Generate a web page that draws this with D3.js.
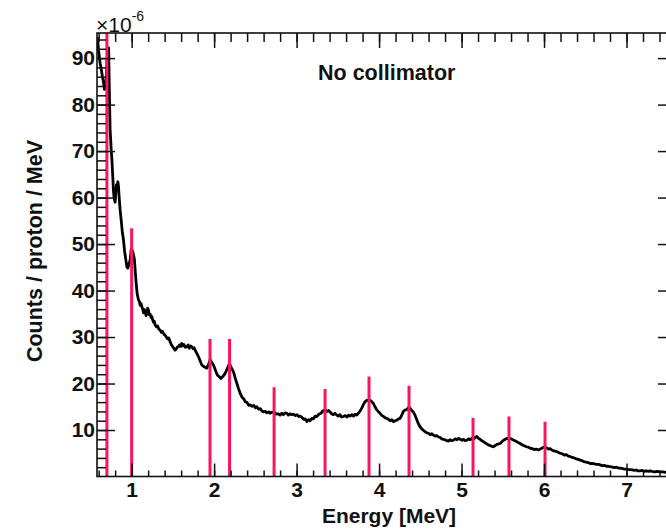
<!DOCTYPE html>
<html>
<head>
<meta charset="utf-8">
<script src="https://cdn.jsdelivr.net/npm/d3@7"></script>
<style>
body { margin: 0; background: #fff; }
text { font-family: "Liberation Sans", Arial, sans-serif; }
</style>
</head>
<body>
<div class="chart"></div>
<script>
// spectrum (MeV, counts/proton/MeV in units of 1e-6)
var energy = [0.585,0.599,0.618,0.632,0.646,0.658,0.670,0.685,0.703,0.721,0.727,0.731,0.739,0.745,0.752,0.760,0.767,0.773,0.779,0.786,
0.792,0.800,0.806,0.815,0.822,0.833,0.840,0.848,0.860,0.873,0.887,0.901,0.915,0.930,0.942,0.954,0.966,0.982,0.995,1.006,
1.018,1.034,1.045,1.055,1.068,1.083,1.095,1.104,1.115,1.124,1.135,1.145,1.155,1.164,1.175,1.185,1.194,1.204,1.214,1.225,
1.235,1.245,1.255,1.265,1.275,1.285,1.300,1.315,1.330,1.346,1.360,1.375,1.390,1.406,1.420,1.436,1.450,1.467,1.480,1.495,
1.510,1.527,1.540,1.555,1.567,1.580,1.595,1.608,1.620,1.635,1.650,1.669,1.685,1.700,1.715,1.729,1.745,1.758,1.770,1.790,
1.810,1.830,1.851,1.870,1.890,1.912,1.930,1.952,1.970,1.992,2.015,2.040,2.060,2.082,2.105,2.134,2.160,2.186,2.205,2.235,
2.255,2.276,2.296,2.316,2.340,2.360,2.377,2.400,2.420,2.437,2.460,2.480,2.500,2.518,2.540,2.560,2.580,2.598,2.620,2.640,
2.660,2.679,2.700,2.728,2.750,2.775,2.800,2.820,2.840,2.860,2.882,2.900,2.920,2.940,2.962,2.985,3.005,3.025,3.043,3.065,
3.085,3.105,3.124,3.145,3.164,3.185,3.205,3.225,3.245,3.270,3.295,3.320,3.345,3.370,3.390,3.406,3.425,3.445,3.465,3.487,
3.505,3.525,3.545,3.567,3.590,3.610,3.630,3.648,3.670,3.690,3.710,3.729,3.750,3.770,3.790,3.810,3.830,3.855,3.882,3.905,
3.931,3.950,3.970,3.990,4.012,4.035,4.055,4.075,4.093,4.115,4.135,4.155,4.174,4.195,4.215,4.235,4.255,4.275,4.295,4.315,
4.335,4.355,4.376,4.395,4.415,4.436,4.455,4.475,4.497,4.520,4.540,4.560,4.578,4.600,4.620,4.640,4.659,4.680,4.700,4.720,
4.740,4.760,4.780,4.800,4.821,4.840,4.860,4.880,4.902,4.925,4.945,4.965,4.983,5.005,5.025,5.045,5.064,5.085,5.105,5.125,
5.144,5.165,5.185,5.205,5.225,5.245,5.266,5.290,5.315,5.340,5.365,5.387,5.410,5.430,5.450,5.468,5.490,5.510,5.530,5.549,
5.570,5.590,5.610,5.635,5.660,5.685,5.710,5.735,5.760,5.785,5.810,5.832,5.855,5.880,5.905,5.932,5.955,5.975,5.995,6.013,
6.035,6.055,6.075,6.095,6.120,6.145,6.170,6.195,6.220,6.245,6.270,6.295,6.317,6.340,6.365,6.390,6.415,6.438,6.460,6.485,
6.510,6.535,6.559,6.585,6.610,6.635,6.660,6.680,6.705,6.730,6.755,6.780,6.802,6.830,6.855,6.880,6.900,6.923,6.950,6.975,
7.000,7.020,7.044,7.070,7.095,7.120,7.140,7.165,7.190,7.215,7.240,7.265,7.286,7.310,7.340,7.370,7.407,7.440,7.480,7.520,
7.560,7.600];
var counts = [94.5,91.7,88.9,87.6,86.0,84.9,83.3,83.5,89.6,92.2,86.0,81.7,74.5,72.8,70.2,68.4,65.9,63.9,61.6,60.1,
59.5,59.0,60.5,62.7,62.2,63.4,62.5,60.2,57.4,55.2,52.6,50.9,48.4,46.6,45.1,44.8,45.6,46.6,48.9,48.7,
48.1,46.6,43.8,41.6,39.2,38.0,37.6,36.8,37.2,36.5,36.0,35.2,35.9,35.4,34.6,35.5,36.2,35.8,34.8,34.9,
34.2,34.4,33.7,33.2,33.4,32.6,32.2,32.4,31.7,31.5,31.0,31.2,30.6,30.4,30.0,29.6,29.8,29.0,28.4,28.0,
27.6,27.2,27.4,27.9,27.9,28.3,28.0,28.6,28.1,28.4,27.8,27.9,28.3,27.6,28.1,27.9,27.5,27.7,27.2,26.5,
25.8,24.9,24.0,23.7,23.5,23.3,24.0,25.1,24.6,24.0,22.9,21.8,21.5,21.1,21.5,22.2,23.2,24.3,23.5,22.5,
21.2,20.0,18.9,17.9,17.0,16.7,16.1,15.9,15.3,15.4,15.1,15.3,14.8,15.0,14.5,14.6,14.1,13.9,14.0,13.7,
13.9,13.6,13.8,13.9,13.4,13.5,13.2,13.6,13.3,13.7,13.6,13.2,13.5,13.3,13.4,13.1,13.3,12.9,13.0,12.7,
12.3,12.4,11.8,12.2,12.0,12.5,12.4,13.0,12.9,13.4,13.6,14.1,14.4,14.0,14.2,13.9,13.5,13.3,13.6,13.2,
13.0,13.3,12.8,12.9,13.1,12.8,13.2,13.0,13.3,13.0,13.4,13.2,13.6,14.1,14.7,15.5,16.1,16.4,16.5,16.2,
15.7,15.0,14.4,14.0,13.6,13.1,12.9,12.6,12.5,12.3,12.0,12.2,11.8,12.0,12.1,12.4,12.5,13.2,14.0,14.3,
14.4,14.8,14.7,14.2,13.9,13.2,12.3,11.4,10.7,10.2,9.9,9.6,9.4,9.3,9.0,9.2,8.9,8.7,8.8,8.5,
8.4,8.1,8.0,7.9,7.7,7.6,7.9,7.7,7.8,8.1,7.9,8.2,8.0,7.8,8.0,7.7,7.8,8.1,7.9,8.2,
8.0,8.4,8.6,8.2,8.0,7.7,7.5,7.2,6.9,6.7,6.5,6.4,6.7,6.9,7.0,7.1,7.5,7.8,8.0,8.2,
8.1,8.2,8.0,7.8,7.6,7.3,7.1,6.8,6.6,6.4,6.3,6.1,6.0,5.8,5.9,5.7,5.9,6.1,6.3,6.4,
6.1,5.9,6.0,5.7,5.5,5.4,5.2,5.0,4.9,4.6,4.7,4.4,4.3,4.1,4.0,3.8,3.7,3.5,3.4,3.2,
3.1,3.0,2.8,2.8,2.7,2.6,2.6,2.5,2.3,2.4,2.2,2.2,2.1,2.0,1.9,2.0,1.8,1.8,1.7,1.6,
1.6,1.5,1.5,1.4,1.3,1.4,1.2,1.2,1.3,1.1,1.2,1.1,1.2,1.1,1.0,1.1,1.0,1.0,0.9,1.0,
0.9,0.9];

// gamma line markers: energy and height
var lineEnergy = [0.70, 1.00, 1.95, 2.187, 2.727, 3.345, 3.878, 4.363, 5.139, 5.575, 6.012];
var lineHeight = [120, 53.4, 29.6, 29.6, 19.2, 18.8, 21.5, 19.5, 12.6, 12.9, 11.8];

var yMajor = [10, 20, 30, 40, 50, 60, 70, 80, 90];
var xMajor = [1, 2, 3, 4, 5, 6, 7];

var W = 666, H = 530;
var mLeft = 97, mRight = 676, mTop = 33, mBottom = 476.5;

var x = d3.scaleLinear().domain([0.58, 7.6]).range([mLeft, mRight]);
var y = d3.scaleLinear().domain([0, 95.4]).range([mBottom, mTop]);

var svg = d3.select(".chart").append("svg")
	.attr("width", W)
	.attr("height", H);

svg.append("clipPath").attr("id", "plotclip")
	.append("rect").attr("x", mLeft).attr("y", mTop).attr("width", mRight - mLeft).attr("height", mBottom - mTop);

var plot = svg.append("g").attr("clip-path", "url(#plotclip)");

var pts = energy.map(function(e, i) { return [e, counts[i]]; });
var line = d3.line().x(function(d) { return x(d[0]); }).y(function(d) { return y(d[1]); });

plot.append("path").datum(pts)
	.attr("d", line)
	.attr("fill", "none")
	.attr("stroke", "#000")
	.attr("stroke-width", 2.8)
	.attr("stroke-linejoin", "round");

plot.selectAll("line.gamma").data(lineEnergy).enter().append("line")
	.attr("class", "gamma")
	.attr("x1", function(d) { return x(d); })
	.attr("x2", function(d) { return x(d); })
	.attr("y1", y(0))
	.attr("y2", function(d, i) { return y(lineHeight[i]); })
	.attr("stroke", "#fb1464")
	.attr("stroke-width", 3);

// minor ticks
var xMinor = d3.range(0.6, 7.61, 0.2).map(function(v) { return +v.toFixed(1); });
var yMinor = d3.range(2, 95, 2);

function styleAxis(g) {
	g.select(".domain").remove();
	g.selectAll(".tick line").attr("stroke", "#111").attr("stroke-width", 1.5);
	g.selectAll("text").attr("font-size", "21px").attr("font-weight", "bold").attr("fill", "#111")
		.style("font-family", "'Liberation Sans', Arial, sans-serif");
}

svg.append("g").attr("transform", "translate(" + mLeft + ",0)")
	.call(d3.axisLeft(y).tickValues(yMinor).tickSize(-9).tickFormat("")).call(styleAxis);
svg.append("g").attr("transform", "translate(" + mLeft + ",0)")
	.call(d3.axisLeft(y).tickValues(yMajor).tickSize(-18).tickPadding(2)).call(styleAxis);
svg.append("g").attr("transform", "translate(" + mRight + ",0)")
	.call(d3.axisRight(y).tickValues(yMinor).tickSize(-9).tickFormat("")).call(styleAxis);
svg.append("g").attr("transform", "translate(" + mRight + ",0)")
	.call(d3.axisRight(y).tickValues(yMajor).tickSize(-18).tickFormat("")).call(styleAxis);

svg.append("g").attr("transform", "translate(0," + mBottom + ")")
	.call(d3.axisBottom(x).tickValues(xMinor).tickSize(-6).tickFormat("")).call(styleAxis);
svg.append("g").attr("transform", "translate(0," + mBottom + ")")
	.call(d3.axisBottom(x).tickValues(xMajor).tickSize(-13).tickPadding(6).tickFormat(d3.format("d"))).call(styleAxis);
svg.append("g").attr("transform", "translate(0," + mTop + ")")
	.call(d3.axisTop(x).tickValues(xMinor).tickSize(-9).tickFormat("")).call(styleAxis);
svg.append("g").attr("transform", "translate(0," + mTop + ")")
	.call(d3.axisTop(x).tickValues(xMajor).tickSize(-15).tickFormat("")).call(styleAxis);

svg.append("rect")
	.attr("x", mLeft).attr("y", mTop)
	.attr("width", mRight - mLeft).attr("height", mBottom - mTop)
	.attr("fill", "none").attr("stroke", "#111").attr("stroke-width", 1.6);

// labels
svg.append("text").attr("x", 389).attr("y", 523)
	.attr("text-anchor", "middle").attr("font-size", "21px").attr("font-weight", "bold").attr("fill", "#111")
	.text("Energy [MeV]");
svg.append("text").attr("transform", "translate(42,251) rotate(-90)")
	.attr("text-anchor", "middle").attr("font-size", "21.5px").attr("font-weight", "bold").attr("fill", "#111")
	.text("Counts / proton / MeV");
svg.append("text").attr("x", 318).attr("y", 80)
	.attr("font-size", "21.5px").attr("font-weight", "bold").attr("fill", "#111")
	.text("No collimator");

var mult = svg.append("text").attr("x", 96).attr("y", 32).attr("font-size", "21px").attr("fill", "#111");
mult.append("tspan").text("\u00d710");
mult.append("tspan").attr("dy", -11).attr("font-size", "14px").text("-6");
</script>
</body>
</html>
